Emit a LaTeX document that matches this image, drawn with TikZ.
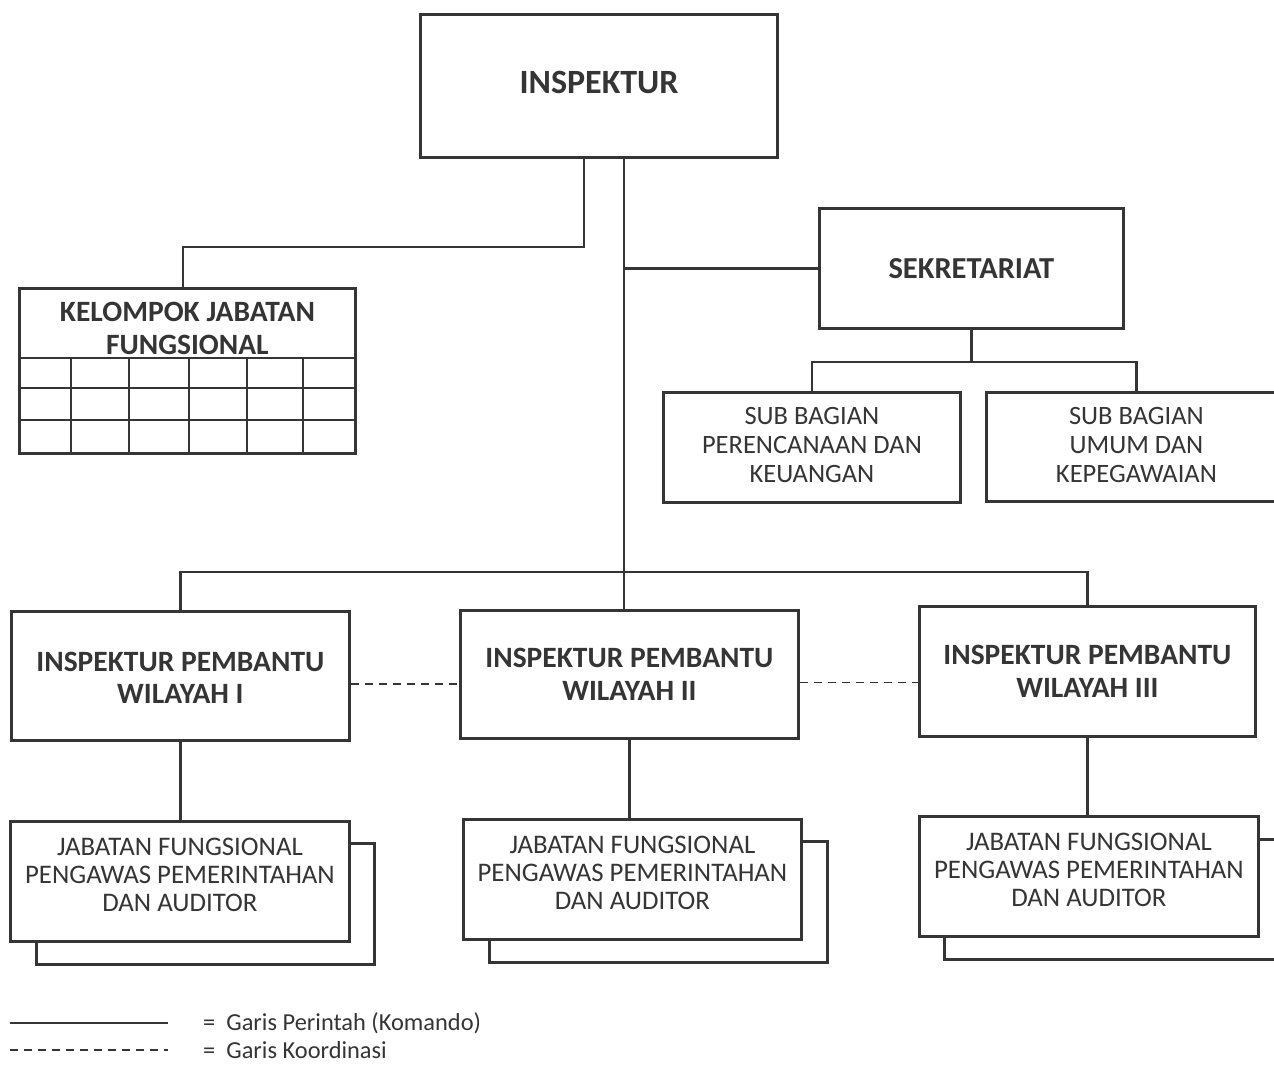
\documentclass[tikz,border=0pt]{standalone}
\usepackage{fontspec}
\setmainfont{Carlito}
\usetikzlibrary{calc}
\definecolor{ink}{HTML}{353535}
\tikzset{
  box/.style={draw=ink, line width=2.8pt, rectangle, anchor=north west, inner sep=0pt, fill=white},
  conn/.style={draw=ink, line width=2.8pt},
  coordline/.style={draw=ink, line width=1.8pt, dash pattern=on 8pt off 6pt},
  bt/.style={font=\bfseries\fontsize{29.5}{32.5}\selectfont, text=ink, align=center, inner sep=0pt},
  btbig/.style={font=\bfseries\fontsize{34}{38}\selectfont, text=ink, align=center, inner sep=0pt},
  nt/.style={font=\fontsize{26.8}{28}\selectfont, text=ink, align=center, inner sep=0pt},
  st/.style={font=\fontsize{26.5}{29}\selectfont, text=ink, align=center, inner sep=0pt},
  lt/.style={font=\fontsize{24.4}{28}\selectfont, text=ink, anchor=west, inner sep=0pt},
}
\begin{document}
\begin{tikzpicture}[x=1pt,y=-1pt]
\clip (0,0) rectangle (1274,1067);
\fill[white] (0,0) rectangle (1274,1067);

% top boxes
\node[box, line width=3pt, minimum width=357pt, minimum height=143pt] (insp) at (419,13) {};
\node[btbig] (tinsp) at ($(insp.center)+(0,-4)$) {INSPEKTUR};

\node[box, minimum width=304pt, minimum height=120pt] (sek) at (818,207) {};
\node[bt, font=\bfseries\fontsize{30.5}{34}\selectfont] (tsek) at (sek.center) {SEKRETARIAT};

\node[box, minimum width=297pt, minimum height=110pt] (sb1) at (662,391) {};
\node[st] (tsb1) at ($(sb1.center)+(0,-2)$) {SUB BAGIAN\\PERENCANAAN DAN\\KEUANGAN};
\node[box, minimum width=300pt, minimum height=109pt] (sb2) at (985,391) {};
\node[st] (tsb2) at ($(sb2.center)+(0,-2)$) {SUB BAGIAN\\UMUM DAN\\KEPEGAWAIAN};

% kelompok
\node[box, minimum width=336pt, minimum height=165pt] (kel) at (18,287) {};
\node[bt, font=\bfseries\fontsize{29.5}{33}\selectfont] (tkel) at ($(kel.north)+(0,41)$) {KELOMPOK JABATAN\\FUNGSIONAL};
\begin{scope}[shift={(kel.north west)}]
  \draw[conn] (0,71) -- (336,71);
  \draw[conn] (0,101) -- (336,101);
  \draw[conn] (0,133) -- (336,133);
  \foreach \cx in {53,111,171,229,285} \draw[conn] (\cx,71) -- (\cx,165);
\end{scope}

% inspektur pembantu
\node[box, minimum width=338pt, minimum height=129pt] (ipw1) at (10,610) {};
\node[bt] (tipw1) at ($(ipw1.center)+(0,2)$) {INSPEKTUR PEMBANTU\\WILAYAH I};
\node[box, minimum width=338pt, minimum height=128pt] (ipw2) at (459,609) {};
\node[bt] (tipw2) at ($(ipw2.center)+(0,0)$) {INSPEKTUR PEMBANTU\\WILAYAH II};
\node[box, minimum width=336pt, minimum height=130pt] (ipw3) at (918,605) {};
\node[bt] (tipw3) at ($(ipw3.center)+(0,0)$) {INSPEKTUR PEMBANTU\\WILAYAH III};

% jabatan fungsional (stacked)
\node[box, minimum width=338pt, minimum height=121pt] (jf1b) at (35,842) {};
\node[box, minimum width=339pt, minimum height=120pt] (jf1) at (9,820) {};
\node[nt] (tjf1) at ($(jf1.center)+(0,-7)$) {JABATAN FUNGSIONAL\\PENGAWAS PEMERINTAHAN\\DAN AUDITOR};
\node[box, minimum width=338pt, minimum height=121pt] (jf2b) at (488,840) {};
\node[box, minimum width=338pt, minimum height=120pt] (jf2) at (462,818) {};
\node[nt] (tjf2) at ($(jf2.center)+(0,-7)$) {JABATAN FUNGSIONAL\\PENGAWAS PEMERINTAHAN\\DAN AUDITOR};
\node[box, minimum width=338pt, minimum height=120pt] (jf3b) at (943,838) {};
\node[box, minimum width=339pt, minimum height=120pt] (jf3) at (918,815) {};
\node[nt] (tjf3) at ($(jf3.center)+(0,-7)$) {JABATAN FUNGSIONAL\\PENGAWAS PEMERINTAHAN\\DAN AUDITOR};

% connectors
\coordinate (inspl) at (584,156);
\coordinate (inspm) at (624,156);
\coordinate (j1) at (584,247);
\coordinate (kelt) at (183,287);
\draw[conn] (inspl) -- (j1) -| (kelt);
\draw[conn] (inspm) -- (inspm |- ipw2.north);
\draw[conn] (sek.west -| inspm) -- (sek.west);
\coordinate (sekj) at ($(sek.south |- 0,362)$);
\draw[conn] (sek.south) -- (sekj);
\draw[conn] (sb1.north) |- (sekj) -| (sb2.north);
\coordinate (bar) at (624,572);
\draw[conn] (ipw1.north) |- (bar) -| (ipw3.north);
\draw[conn] (ipw1.south) -- (ipw1.south |- jf1.north);
\draw[conn] (ipw2.south) -- (ipw2.south |- jf2.north);
\draw[conn] (ipw3.south) -- (ipw3.south |- jf3.north);
\draw[coordline] ([yshift=-8pt]ipw1.east) -- ([yshift=-8pt]ipw1.east -| ipw2.west);
\draw[coordline] ([yshift=-8pt]ipw2.east) -- ([yshift=-8pt]ipw2.east -| ipw3.west);

% legend
\coordinate (la1) at (10,1023);
\coordinate (lb1) at (168,1023);
\coordinate (la2) at (10,1050);
\coordinate (lb2) at (168,1050);
\draw[ink, line width=1.6pt] (la1) -- (lb1);
\draw[ink, line width=1.6pt, dash pattern=on 8pt off 6pt] (la2) -- (lb2);
\node[lt] (leg1) at (203,1023) {=\ \ Garis Perintah (Komando)};
\node[lt] (leg2) at (203,1050) {=\ \ Garis Koordinasi};
\end{tikzpicture}
\end{document}
